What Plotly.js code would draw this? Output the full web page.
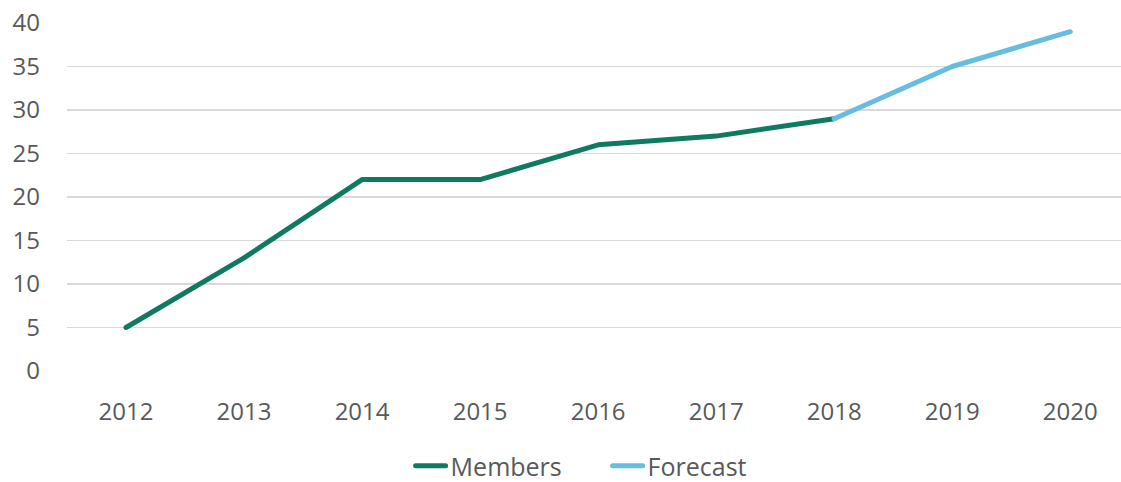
<!DOCTYPE html>
<html><head><meta charset="utf-8">
<script src="https://cdn.plot.ly/plotly-3.0.1.min.js"></script>
<style>html,body{margin:0;padding:0;background:#fff}
.js-line{stroke-linecap:round;stroke-linejoin:round}</style>
</head><body><div id="chart" style="width:1121px;height:482px"></div>
<script>
const years = ['2012','2013','2014','2015','2016','2017','2018','2019','2020'];
const memberYears = ['2012','2013','2014','2015','2016','2017','2018'];
const members = [5, 13, 22, 22, 26, 27, 29];
const forecastYears = ['2018','2019','2020'];
const forecast = [29, 35, 39];
const yTicks = [0,5,10,15,20,25,30,35,40];

const fontFam = '"Open Sans", "Noto Sans", sans-serif';
const data = [
  {x: memberYears, y: members, name: 'Members', type: 'scatter', mode: 'lines',
   line: {color: '#0F7A60', width: 5}},
  {x: forecastYears, y: forecast, name: 'Forecast', type: 'scatter', mode: 'lines',
   line: {color: '#66BDDF', width: 5}}
];
const layout = {
  width: 1121, height: 482,
  margin: {l: 67, r: 0, t: 23, b: 111, autoexpand: false},
  paper_bgcolor: '#fff', plot_bgcolor: '#fff',
  font: {family: fontFam, size: 23, color: '#595959'},
  xaxis: {type: 'category', categoryarray: years, range: [-0.5, 8.43],
          showgrid: false, zeroline: false, showline: false, ticks: '',
          ticklabelstandoff: 24, tickfont: {size: 24, color: '#595959'}},
  yaxis: {range: [0, 40], tickvals: yTicks, showgrid: true, gridcolor: '#D9D9D9',
          gridwidth: 1.5, zeroline: false, showline: false, ticks: '',
          ticklabelstandoff: 26, tickfont: {size: 24, color: '#595959'}},
  showlegend: true,
  legend: {orientation: 'h', x: 0.326, xanchor: 'left', y: -0.273, yanchor: 'middle',
           font: {size: 25, color: '#595959'}, entrywidth: 152, entrywidthmode: 'pixels',
           tracegroupgap: 0},
};
Plotly.newPlot('chart', data, layout, {displayModeBar: false, staticPlot: true});
</script></body></html>
